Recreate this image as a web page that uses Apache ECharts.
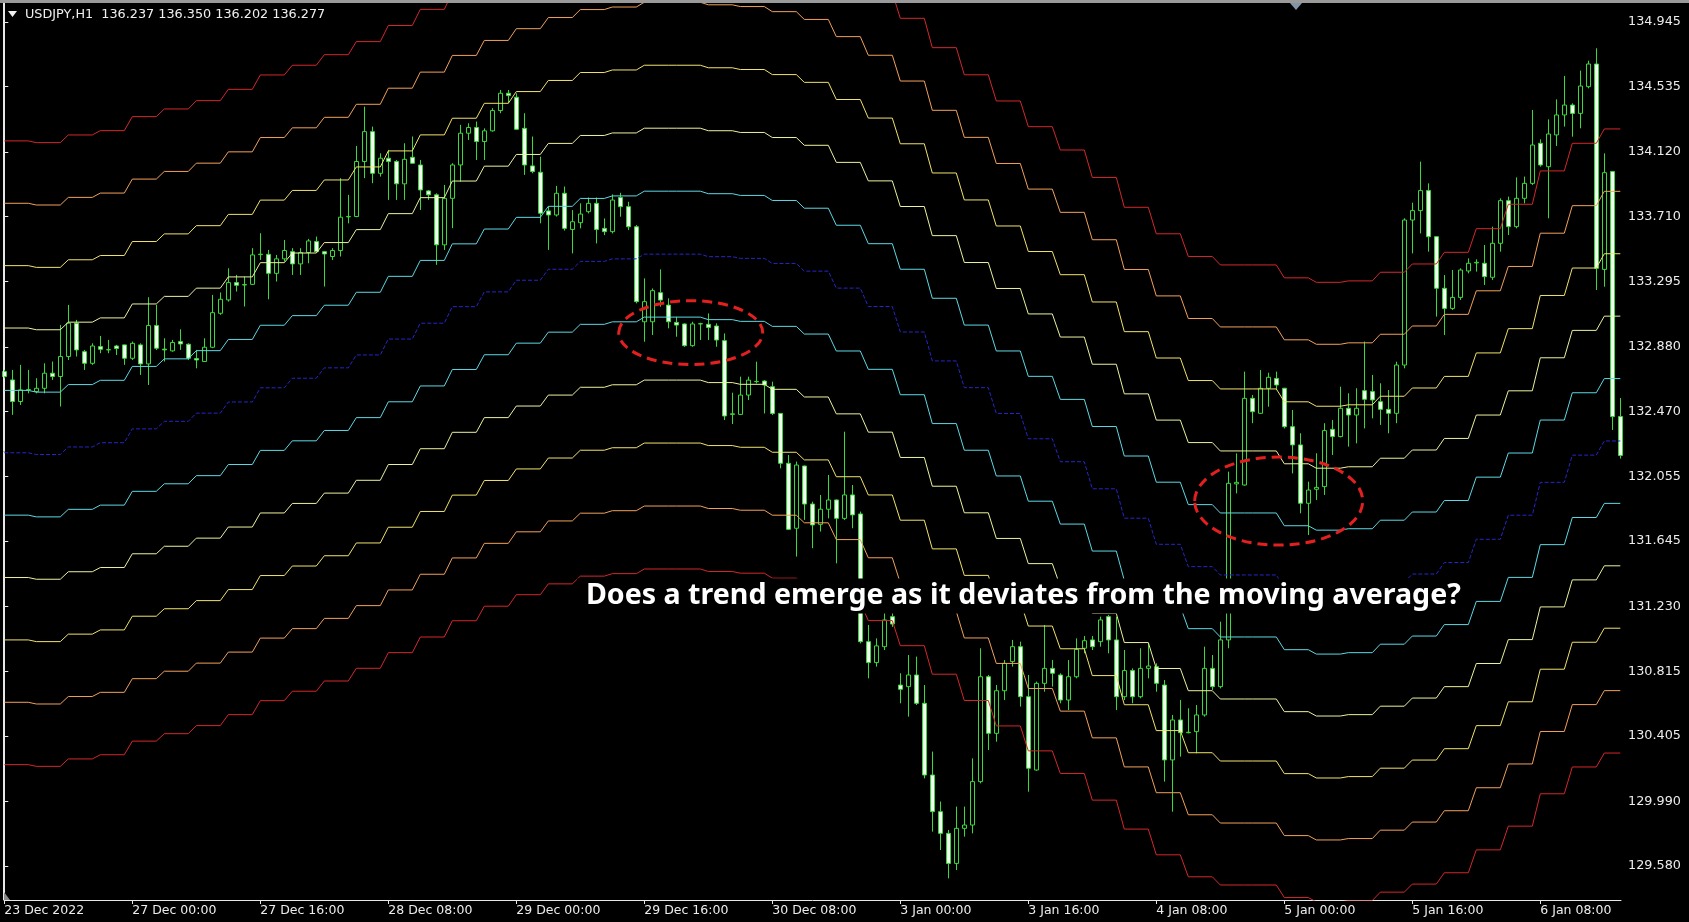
<!DOCTYPE html>
<html><head><meta charset="utf-8">
<script src="https://cdn.jsdelivr.net/npm/echarts@6/dist/echarts.min.js"></script>
<style>html,body{margin:0;padding:0;background:#000;overflow:hidden}#chart{width:1689px;height:922px}</style>
</head><body><div id="chart"></div>
<script>
// ---- data (USDJPY H1) ----
const opens = [132.723,132.670,132.533,132.607,132.596,132.617,132.713,132.692,132.819,133.031,132.850,132.776,132.882,132.861,132.886,132.893,132.808,132.893,132.772,133.016,132.866,132.855,132.914,132.897,132.806,132.787,132.878,133.094,133.179,133.289,133.276,133.278,133.467,133.469,133.348,133.440,133.486,133.408,133.480,133.550,133.486,133.455,133.493,133.707,133.709,134.059,134.249,133.984,134.080,134.059,133.917,134.086,134.037,133.872,133.847,133.529,133.825,134.037,134.239,134.275,134.186,134.254,134.383,134.493,134.468,134.270,134.031,133.991,133.745,133.719,133.857,133.627,133.670,133.740,133.793,133.634,133.613,133.830,133.772,133.644,133.040,133.040,133.225,133.146,133.036,133.026,132.888,133.026,133.024,133.013,132.920,132.451,132.451,132.574,132.659,132.663,132.627,132.457,132.140,131.727,132.123,131.881,131.752,131.848,131.907,131.790,131.939,131.818,131.006,130.873,130.974,131.165,130.730,130.720,130.794,130.614,130.158,129.925,129.787,129.596,129.819,129.840,130.116,130.783,130.423,130.694,130.879,130.974,130.656,130.190,130.741,130.836,130.794,130.635,130.783,130.964,131.017,131.006,131.165,131.017,130.656,130.822,130.656,130.836,130.847,130.730,130.254,130.508,130.427,130.434,130.540,130.836,130.720,131.017,132.009,132.002,132.553,132.458,132.617,132.680,132.617,132.373,132.257,131.886,131.975,131.992,132.356,132.310,132.490,132.447,132.602,132.596,132.532,132.483,132.458,132.765,133.687,133.747,133.874,133.581,133.253,133.125,133.195,133.363,133.414,133.412,133.323,133.539,133.810,133.645,133.825,133.920,134.175,134.026,134.228,134.355,134.418,134.365,134.535,134.679,133.373,133.995,132.437];
const highs = [132.734,132.734,132.766,132.734,132.681,132.776,132.787,133.020,133.147,133.052,132.861,132.903,132.950,132.925,132.893,132.895,132.914,132.903,133.196,133.147,132.935,132.925,132.992,132.903,132.861,132.935,133.211,133.226,133.380,133.338,133.327,133.508,133.603,133.497,133.465,133.560,133.508,133.508,133.567,133.582,133.488,133.508,133.953,133.847,134.158,134.408,134.281,134.111,134.133,134.069,134.175,134.218,134.069,133.878,133.857,133.910,134.048,134.292,134.302,134.313,134.270,134.398,134.514,134.514,134.493,134.366,134.218,134.090,133.772,133.904,133.900,133.750,133.793,133.830,133.830,133.697,133.850,133.860,133.803,133.655,133.316,133.252,133.373,133.189,133.072,133.030,133.040,133.034,133.093,133.030,132.966,132.589,132.691,132.691,132.786,132.669,132.659,132.460,132.193,132.151,132.125,131.896,131.939,132.066,131.910,132.341,132.002,131.833,131.112,131.027,131.200,131.250,130.805,130.921,130.911,130.730,130.307,129.989,129.809,129.957,129.957,130.264,130.964,130.794,130.730,130.889,131.017,131.006,130.794,130.752,131.112,130.889,130.805,130.889,131.027,131.042,131.042,131.165,131.176,131.165,130.953,130.836,130.964,130.995,130.868,130.762,130.540,130.635,130.582,130.603,130.974,130.921,131.133,132.087,132.203,132.723,132.574,132.733,132.716,132.723,132.620,132.479,132.331,132.023,132.204,132.395,132.416,132.627,132.585,132.617,132.914,132.702,132.649,132.606,132.786,133.698,133.797,134.058,133.920,133.585,133.337,133.369,133.380,133.443,133.437,133.528,133.645,133.825,133.836,133.958,133.963,134.387,134.200,134.327,134.454,134.603,134.429,134.637,134.700,134.779,134.111,133.998,132.555];
const lows = [132.681,132.448,132.511,132.585,132.585,132.585,132.670,132.501,132.797,132.819,132.734,132.766,132.840,132.840,132.829,132.766,132.797,132.702,132.638,132.861,132.787,132.850,132.861,132.797,132.744,132.785,132.872,133.084,133.168,133.232,133.137,133.274,133.433,133.183,133.296,133.423,133.338,133.338,133.412,133.480,133.264,133.433,133.455,133.666,133.705,133.953,133.921,133.963,133.815,133.815,133.815,134.046,133.751,133.815,133.402,133.497,133.635,133.931,134.196,134.069,134.069,134.249,134.366,134.429,134.260,133.974,133.984,133.666,133.497,133.709,133.620,133.475,133.634,133.729,133.538,133.591,133.602,133.708,133.623,133.157,132.913,132.956,133.136,132.998,132.945,132.881,132.881,132.924,132.924,132.881,132.415,132.390,132.447,132.542,132.648,132.457,132.447,132.108,131.716,131.547,131.780,131.600,131.706,131.790,131.504,131.780,131.727,130.995,130.773,130.847,130.953,131.100,130.614,130.529,130.603,130.137,129.798,129.681,129.501,129.554,129.766,129.787,130.105,130.317,130.370,130.635,130.847,130.593,130.052,130.185,130.688,130.720,130.614,130.571,130.773,130.932,130.953,130.974,130.932,130.571,130.635,130.614,130.646,130.773,130.688,130.116,129.925,130.275,130.423,130.296,130.529,130.699,130.709,130.964,131.949,131.998,132.395,132.455,132.500,132.606,132.362,132.076,131.822,131.684,131.907,131.939,132.193,132.305,132.246,132.267,132.362,132.426,132.384,132.331,132.395,132.744,133.475,133.602,133.486,133.073,132.956,133.115,133.179,133.348,133.359,133.274,133.306,133.486,133.592,133.634,133.793,133.910,134.026,133.698,134.158,134.281,134.217,134.270,134.524,133.242,133.263,132.352,132.170];
const closes = [132.692,132.533,132.607,132.609,132.617,132.713,132.692,132.819,133.031,132.861,132.776,132.886,132.865,132.863,132.870,132.808,132.903,132.772,133.016,132.872,132.861,132.908,132.899,132.808,132.797,132.878,133.098,133.183,133.289,133.272,133.274,133.465,133.470,133.348,133.440,133.493,133.408,133.480,133.554,133.486,133.471,133.493,133.705,133.709,134.059,134.249,133.984,134.080,134.059,133.917,134.073,134.048,133.878,133.847,133.529,133.825,134.037,134.239,134.275,134.186,134.254,134.383,134.493,134.478,134.264,134.037,133.995,133.730,133.719,133.857,133.634,133.676,133.725,133.793,133.627,133.613,133.814,133.772,133.644,133.168,133.168,133.238,133.178,133.040,133.019,132.888,133.026,133.028,133.004,132.924,132.441,132.455,132.574,132.669,132.661,132.638,132.457,132.140,131.720,132.129,131.881,131.748,131.848,131.907,131.790,131.939,131.812,131.006,130.873,130.979,131.144,131.118,130.703,130.794,130.614,130.158,129.925,129.787,129.596,129.819,129.840,130.116,130.783,130.423,130.694,130.868,130.974,130.656,130.201,130.741,130.836,130.805,130.635,130.783,130.957,131.012,130.974,131.144,131.017,130.656,130.822,130.656,130.836,130.851,130.741,130.254,130.508,130.427,130.430,130.540,130.836,130.720,131.017,132.013,132.019,132.553,132.468,132.617,132.687,132.638,132.373,132.257,131.886,131.970,131.987,132.348,132.310,132.490,132.447,132.490,132.547,132.543,132.483,132.458,132.765,133.687,133.747,133.874,133.581,133.253,133.125,133.195,133.369,133.412,133.418,133.327,133.539,133.810,133.645,133.825,133.920,134.164,134.037,134.234,134.355,134.418,134.365,134.539,134.679,133.380,133.988,132.437,132.190];
// H4 moving average (one value per 4 hourly bars), drawn on the H1 chart
const maH4 = [132.207,132.196,132.244,132.271,132.359,132.407,132.459,132.530,132.620,132.681,132.747,132.829,132.930,133.031,133.136,133.230,133.304,133.374,133.424,133.440,133.470,133.470,133.454,133.443,133.411,133.362,133.254,133.137,132.975,132.791,132.621,132.457,132.296,132.150,131.978,131.791,131.625,131.483,131.430,131.430,131.349,131.321,131.330,131.384,131.436,131.509,131.657,131.810,132.019,132.192,132.282];
const envelopePct = [0.3, 0.6, 0.9, 1.2, 1.5];
const xTickIndex = [0,16,32,48,64,80,96,112,128,144,160,176,192];
const xTickLabels = ['23 Dec 2022','27 Dec 00:00','27 Dec 16:00','28 Dec 08:00','29 Dec 00:00','29 Dec 16:00','30 Dec 08:00','3 Jan 00:00','3 Jan 16:00','4 Jan 08:00','5 Jan 00:00','5 Jan 16:00','6 Jan 08:00'];
const yTickValues = [129.580,129.990,130.405,130.815,131.230,131.645,132.055,132.470,132.880,133.295,133.710,134.120,134.535,134.945];
const headerText = 'USDJPY,H1  136.237 136.350 136.202 136.277';
const annotationText = 'Does a trend emerge as it deviates from the moving average?';
// highlighted zones: [centre bar, centre price, half width in bars, half height in price]
const zones = [[85.8, 132.971, 9, 0.203], [159.3, 131.900, 10.5, 0.28]];
const annotationAnchor = [72.7, 131.296];

// ---- styles ----
const bandColors = ['#5cd8e4', '#ecf29c', '#f1e26c', '#f2a05a', '#d3282a'];
const green = '#3ad93a';
const fontAxis = '"DejaVu Sans", sans-serif';

const candleData = opens.map((o, i) => [i, o, closes[i], lows[i], highs[i]]);
const barsPerBlock = 4;
function bandSeries(factor, color, dashed) {
  const pts = [];
  maH4.forEach((v, j) => {
    const a = j * barsPerBlock;
    const b = Math.min(a + barsPerBlock - 1, opens.length - 1);
    pts.push([a, +(v * factor).toFixed(4)]);
    pts.push([b, +(v * factor).toFixed(4)]);
  });
  return {
    type: 'line', data: pts, symbol: 'none', silent: true, animation: false, z: 3,
    lineStyle: { color: color, width: 1, type: dashed ? [4, 2] : 'solid' }
  };
}
const series = [{
  type: 'candlestick', data: candleData, encode: { x: 0, y: [1, 2, 3, 4] },
  barWidth: 5, animation: false, silent: true, z: 2,
  itemStyle: { color: '#000', color0: '#f2fff0', borderColor: green, borderColor0: green, borderWidth: 1 }
}];
series.push(bandSeries(1, '#2626c8', true));
envelopePct.forEach((p, k) => {
  series.push(bandSeries(1 + p / 100, bandColors[k], false));
  series.push(bandSeries(1 - p / 100, bandColors[k], false));
});

const chart = echarts.init(document.getElementById('chart'), null, { renderer: 'canvas' });
const gridTop = 3, gridBottom = 22, gridLeft = 4, gridRight = 68;
chart.setOption({
  backgroundColor: '#000',
  animation: false,
  grid: { left: gridLeft, right: gridRight, top: gridTop, bottom: gridBottom },
  xAxis: {
    type: 'value', min: -0.0375, max: 202.0875,
    axisLine: { show: true, lineStyle: { color: '#e8e8e8', width: 1 } },
    axisTick: { show: true, customValues: xTickIndex, length: 4, inside: false, lineStyle: { color: '#e8e8e8' } },
    axisLabel: { customValues: xTickIndex, formatter: v => xTickLabels[xTickIndex.indexOf(Math.round(v))] || '',
      align: 'left', color: '#ececec', fontFamily: fontAxis, fontSize: 12.5, margin: 4 },
    splitLine: { show: false }
  },
  yAxis: {
    type: 'value', position: 'right', min: 129.3633, max: 135.0669, scale: true,
    axisLine: { show: true, lineStyle: { color: '#e8e8e8', width: 1 } },
    axisTick: { show: true, customValues: yTickValues, length: 4, lineStyle: { color: '#e8e8e8' } },
    axisLabel: { customValues: yTickValues, formatter: v => v.toFixed(3), color: '#ececec',
      fontFamily: fontAxis, fontSize: 12.8, margin: 7 },
    splitLine: { show: false }
  },
  series: series
});

const toPx = (x, y) => chart.convertToPixel({ gridIndex: 0 }, [x, y]);
const graphics = [
  { type: 'rect', shape: { x: 0, y: 0, width: 1689, height: 3 }, style: { fill: '#9a9a9a' }, z: 10 },
  { type: 'line', shape: { x1: 3.5, y1: 3, x2: 3.5, y2: 900 }, style: { stroke: '#e8e8e8', lineWidth: 1 }, z: 10 },
  { type: 'polygon', shape: { points: [[8, 11], [17, 11], [12.5, 17]] }, style: { fill: '#f0f0f0' }, z: 10 },
  { type: 'text', x: 25, y: 15, style: { text: headerText, fill: '#f0f0f0', font: '12.8px "DejaVu Sans"', verticalAlign: 'middle' }, z: 10 },
  { type: 'polygon', shape: { points: [[1290, 3], [1302, 3], [1296, 10]] }, style: { fill: '#8494a6' }, z: 10 },
  { type: 'polygon', shape: { points: [[4, 892], [4, 900], [10, 900]] }, style: { fill: '#8a8a8a' }, z: 10 }
];
zones.forEach(z => {
  const c = toPx(z[0], z[1]);
  const e = toPx(z[0] + z[2], z[1] + z[3]);
  graphics.push({ type: 'ellipse', shape: { cx: c[0], cy: c[1], rx: Math.abs(e[0] - c[0]), ry: Math.abs(e[1] - c[1]) },
    style: { fill: null, stroke: '#e3201f', lineWidth: 3, lineDash: [10, 6] }, z: 20 });
});
const ta = toPx(annotationAnchor[0], annotationAnchor[1]);
graphics.push({ type: 'text', x: ta[0] - 9, y: ta[1], z: 30,
  style: { text: annotationText, fill: '#ffffff', font: 'bold 28.6px "Noto Sans"', verticalAlign: 'middle',
    backgroundColor: '#000', padding: [3, 9, 3, 9] } });
chart.setOption({ graphic: graphics });
</script></body></html>
